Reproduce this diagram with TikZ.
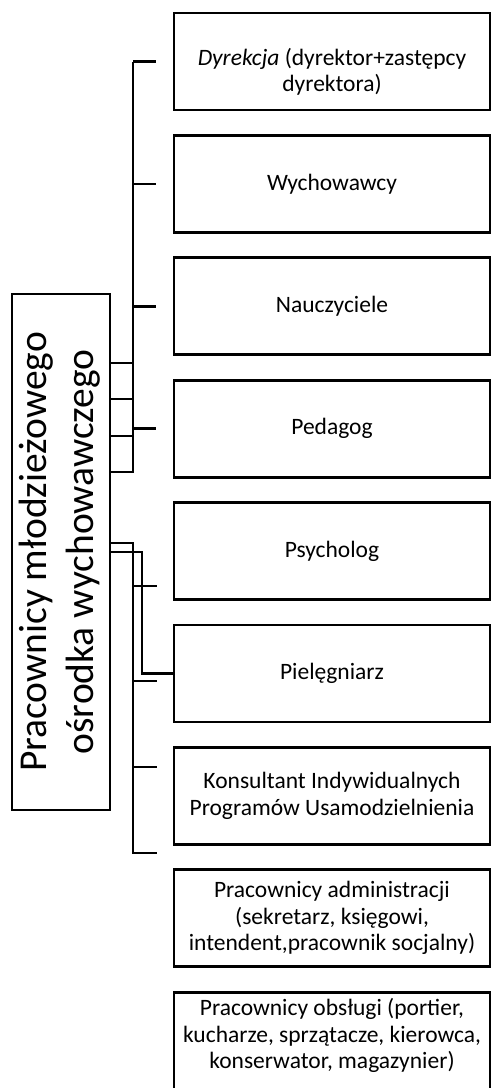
\documentclass[tikz,border=0pt]{standalone}
\usepackage{fontspec}
\setmainfont{Carlito}
\usetikzlibrary{positioning}
\tikzset{
  rolebox/.style={draw, minimum width=316pt, minimum height=97pt, align=center, inner sep=0pt, font=\fontsize{23.5}{26.5}\selectfont},
  headbox/.style={draw, minimum width=98pt, minimum height=516pt, inner sep=0pt, font=\fontsize{39.5}{47}\selectfont}
}
\begin{document}
\begin{tikzpicture}[x=1pt, y=-1pt, line width=2.8pt]
\useasboundingbox (0,0) rectangle (491,1088);
\node [headbox] (head) at (61,552) {\rotatebox{90}{\begin{tabular}{@{}c@{}}Pracownicy młodzieżowego\\ośrodka wychowawczego\end{tabular}}};

\node [rolebox, text height=64pt] (r1) at (332,61.5) {\textit{Dyrekcja} (dyrektor+zastępcy\\dyrektora)};
\node [rolebox, below=22.6pt of r1] (r2) {Wychowawcy};
\node [rolebox, below=22.6pt of r2] (r3) {Nauczyciele};
\node [rolebox, below=22.6pt of r3] (r4) {Pedagog};
\node [rolebox, below=22.6pt of r4] (r5) {Psycholog};
\node [rolebox, below=22.6pt of r5] (r6) {Pielęgniarz};
\node [rolebox, below=22.6pt of r6] (r7) {Konsultant Indywidualnych\\Programów Usamodzielnienia};
\node [rolebox, below=22.6pt of r7] (r8) {Pracownicy administracji\\(sekretarz, księgowi,\\intendent,pracownik socjalny)};
\node [rolebox, text depth=14pt, below=22.6pt of r8] (r9) {Pracownicy obsługi (portier,\\kucharze, sprzątacze, kierowca,\\konserwator, magazynier)};

\coordinate (busT) at (133,62);
\coordinate (busM) at (133,472);
\coordinate (busL) at (133,543);
\coordinate (busB) at (133,853);
\coordinate (side) at (142,552);

\draw (busT) -- (busM) -- (busM -| head.east);
\foreach \y in {363,399,436} \draw (head.east |- 0,\y) -- (busT |- 0,\y);
\foreach \n in {r1,r2,r3,r4} \draw (\n.west) ++(-17,0) -- (busT |- \n.west);

\draw (head.east |- busL) -- (busL) -- (busB) -- ++(24,0);
\foreach \y in {586,681,767} \draw (busL |- 0,\y) -- ++(24,0);
\draw (head.east |- side) -- (side) |- (r6.west);
\end{tikzpicture}
\end{document}
